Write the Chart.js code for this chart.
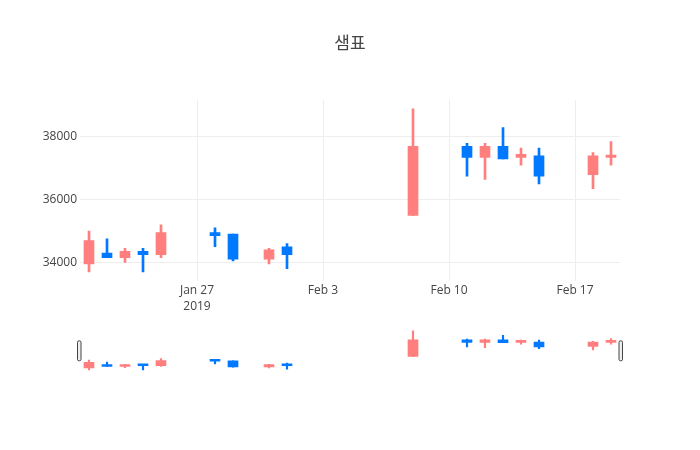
<!DOCTYPE html>
<html>
<head>
<meta charset="utf-8">
<script src="https://cdn.jsdelivr.net/npm/chart.js@4/dist/chart.umd.min.js"></script>
<style>
  html, body { margin: 0; padding: 0; background: #fff; }
  #wrap { position: relative; width: 700px; height: 450px; }
  #wrap canvas { position: absolute; left: 0; top: 0; }
</style>
</head>
<body>
<div id="wrap">
  <canvas id="main" width="700" height="450"></canvas>
  <canvas id="slider" width="700" height="450"></canvas>
</div>
<script>
const title = '샘표';
const dates = ['2019-01-21','2019-01-22','2019-01-23','2019-01-24','2019-01-25',
               '2019-01-28','2019-01-29','2019-01-31','2019-02-01','2019-02-08',
               '2019-02-11','2019-02-12','2019-02-13','2019-02-14','2019-02-15',
               '2019-02-18','2019-02-19'];
const opens  = [33950, 34300, 34150, 34350, 34250, 34950, 34900, 34100, 34500, 35500,
                37700, 37350, 37700, 37350, 37400, 36800, 37350];
const highs  = [35000, 34750, 34450, 34450, 35200, 35100, 34900, 34450, 34600, 38900,
                37800, 37800, 38300, 37650, 37650, 37500, 37850];
const lows   = [33700, 34150, 34000, 33700, 34150, 34500, 34050, 33950, 33800, 35500,
                36750, 36650, 37300, 37100, 36500, 36350, 37100];
const closes = [34700, 34150, 34350, 34250, 34950, 34850, 34100, 34400, 34250, 37700,
                37350, 37700, 37300, 37450, 36750, 37400, 37420];
const xTickDates  = ['2019-01-27','2019-02-03','2019-02-10','2019-02-17'];
const xTickLabels = [['Jan 27','2019'], ['Feb 3'], ['Feb 10'], ['Feb 17']];
const yTicks = [34000, 36000, 38000];
const yMin = 33420, yMax = 39180;

const UP = '#ff7f7f', DOWN = '#0078ff';
const FONT = '"Open Sans", "Noto Sans CJK KR", sans-serif';

const dayOf = s => Date.UTC(+s.slice(0,4), +s.slice(5,7)-1, +s.slice(8,10)) / 864e5;
const xs = dates.map(dayOf);
const xMin = xs[0] - 0.5, xMax = xs[xs.length-1] + 0.5;
const colors = opens.map((o,i) => closes[i] >= o ? UP : DOWN);
const tickDays = xTickDates.map(dayOf);

function datasets(wickW, bodyW) {
  return [
    { data: xs.map((x,i) => ({x, y:[lows[i], highs[i]]})), backgroundColor: colors,
      barThickness: wickW, grouped: false, borderWidth: 0, minBarLength: 1 },
    { data: xs.map((x,i) => ({x, y:[opens[i], closes[i]]})), backgroundColor: colors,
      barThickness: bodyW, grouped: false, borderWidth: 0, minBarLength: 2 }
  ];
}

new Chart(document.getElementById('main'), {
  type: 'bar',
  data: { datasets: datasets(2, 10) },
  options: {
    responsive: false, animation: false, events: [],
    layout: { padding: { left: 0, right: 0, top: 0, bottom: 129.4 } },
    plugins: {
      legend: { display: false }, tooltip: { enabled: false },
      title: { display: true, text: title, color: '#444',
               font: { family: FONT, size: 17, weight: 'normal', lineHeight: 1.2 },
               padding: { top: 33.5, bottom: 46.1 } }
    },
    scales: {
      x: { type: 'linear', min: xMin, max: xMax, offset: false,
           afterBuildTicks: s => { s.ticks = tickDays.map(v => ({ value: v })); },
           afterFit: s => { s.height = 40; },
           grid: { color: '#eee', lineWidth: 1, drawTicks: false, offset: false },
           border: { display: false },
           ticks: { color: '#444', padding: 2.5, maxRotation: 0, autoSkip: false,
                    font: { family: FONT, size: 12, lineHeight: 1.3 },
                    callback: (v) => { const k = tickDays.indexOf(v); return k >= 0 ? xTickLabels[k] : ''; } } },
      y: { min: yMin, max: yMax,
           afterBuildTicks: s => { s.ticks = yTicks.map(v => ({ value: v })); },
           afterFit: s => { s.width = 80; },
           grid: { color: '#eee', lineWidth: 1, drawTicks: false },
           border: { display: false },
           ticks: { color: '#444', padding: 3, font: { family: FONT, size: 12 },
                    callback: v => String(v) } },
      yRight: { position: 'right', min: yMin, max: yMax, display: true,
           afterFit: s => { s.width = 80; },
           grid: { display: false, drawTicks: false },
           border: { display: false },
           ticks: { display: false } }
    }
  }
});

const handles = {
  id: 'handles',
  afterDraw(chart) {
    const { ctx, chartArea: a } = chart;
    const cy = (a.top + a.bottom) / 2;
    ctx.save();
    ctx.fillStyle = '#eee';
    ctx.strokeStyle = '#444';
    ctx.lineWidth = 1;
    [a.left - 3, a.right - 1.5].forEach(x => {
      ctx.beginPath();
      ctx.roundRect(x + 0.5, cy - 10 + 0.5, 3.5, 20, 1.5);
      ctx.fill(); ctx.stroke();
    });
    ctx.restore();
  }
};

new Chart(document.getElementById('slider'), {
  type: 'bar',
  data: { datasets: datasets(1.5, 10) },
  options: {
    responsive: false, animation: false, events: [],
    layout: { padding: { left: 80, right: 80, top: 328.6, bottom: 78 } },
    plugins: { legend: { display: false }, tooltip: { enabled: false }, title: { display: false } },
    scales: {
      x: { type: 'linear', min: xMin, max: xMax, offset: false, display: false },
      y: { min: yMin, max: yMax, display: false }
    }
  },
  plugins: [handles]
});
</script>
</body>
</html>
